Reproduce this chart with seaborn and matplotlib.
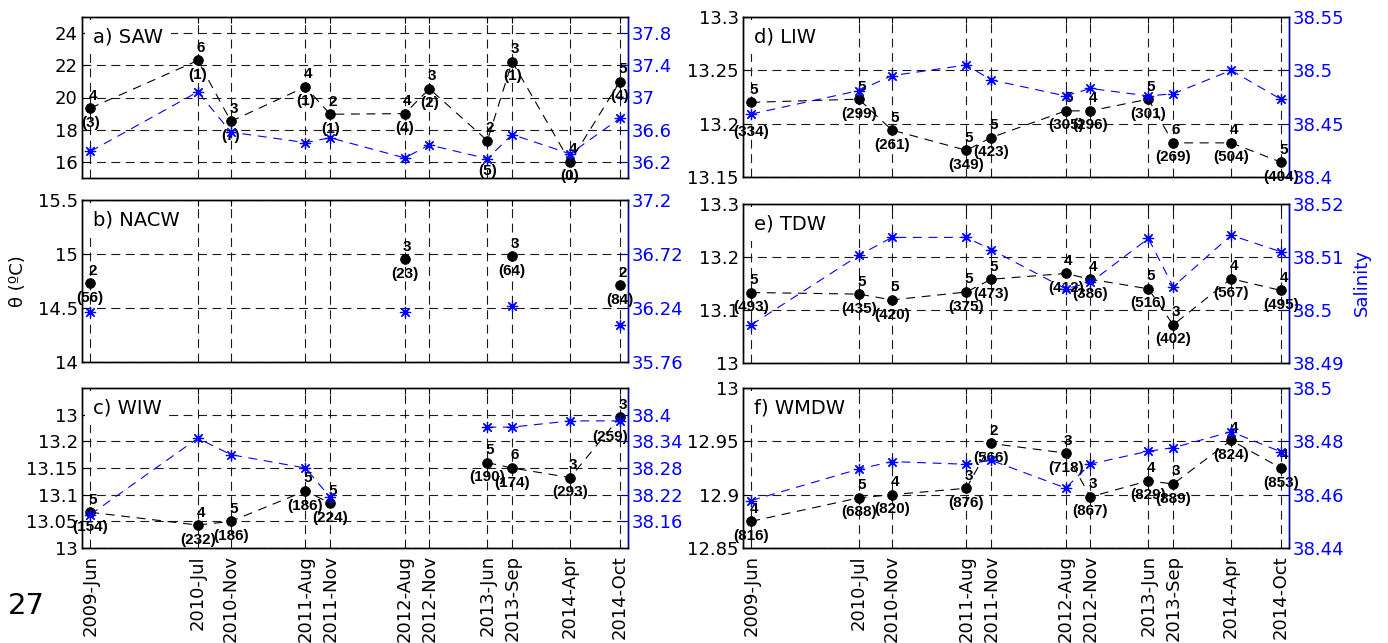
import numpy as np
import pandas as pd
import seaborn as sns
import matplotlib.pyplot as plt
from matplotlib.ticker import FixedLocator, FixedFormatter

nan = np.nan

# sampling dates (months after 2009-Jun) and their labels
months = [0, 13, 17, 26, 29, 38, 41, 48, 51, 58, 64]
date_labels = ['2009-Jun', '2010-Jul', '2010-Nov', '2011-Aug', '2011-Nov', '2012-Aug',
               '2012-Nov', '2013-Jun', '2013-Sep', '2014-Apr', '2014-Oct']

# a) SAW
saw_theta = [19.34, 22.30, 18.52, 20.66, 18.96, 19.00, 20.54, 17.32, 22.23, 16.00, 20.98]
saw_sal = [36.33, 37.07, 36.57, 36.44, 36.50, 36.25, 36.41, 36.24, 36.54, 36.30, 36.74]
saw_n = [4, 6, 3, 4, 2, 4, 3, 2, 3, 4, 5]
saw_depth = [3, 1, 7, 1, 1, 4, 2, 5, 1, 0, 4]

# b) NACW
nacw_theta = [14.73, nan, nan, nan, nan, 14.95, nan, nan, 14.98, nan, 14.71]
nacw_sal = [36.20, nan, nan, nan, nan, 36.20, nan, nan, 36.26, nan, 36.085]
nacw_n = [2, nan, nan, nan, nan, 3, nan, nan, 3, nan, 2]
nacw_depth = [56, nan, nan, nan, nan, 23, nan, nan, 64, nan, 84]

# c) WIW
wiw_theta = [13.067, 13.043, 13.050, 13.107, 13.084, nan, nan, 13.160, 13.150, 13.132, 13.245]
wiw_sal = [38.175, 38.347, 38.310, 38.280, 38.214, nan, nan, 38.372, 38.372, 38.386, 38.386]
wiw_n = [5, 4, 5, 5, 5, nan, nan, 5, 6, 3, 3]
wiw_depth = [154, 232, 186, 186, 224, nan, nan, 190, 174, 293, 259]

# d) LIW
liw_theta = [13.220, 13.223, 13.194, 13.175, 13.187, 13.212, 13.212, 13.223, 13.182, 13.182, 13.164]
liw_sal = [38.459, 38.481, 38.495, 38.505, 38.491, 38.476, 38.483, 38.476, 38.478, 38.500, 38.473]
liw_n = [5, 5, 5, 5, 5, 5, 4, 5, 6, 4, 5]
liw_depth = [334, 299, 261, 349, 423, 305, 296, 301, 269, 504, 404]

# e) TDW
tdw_theta = [13.133, 13.130, 13.119, 13.134, 13.158, 13.169, 13.158, 13.140, 13.072, 13.159, 13.137]
tdw_sal = [38.4972, 38.5103, 38.5137, 38.5137, 38.5114, 38.5040, 38.5052, 38.5135, 38.5044, 38.5141, 38.5110]
tdw_n = [5, 5, 5, 5, 5, 4, 4, 5, 3, 4, 4]
tdw_depth = [493, 435, 420, 375, 473, 412, 386, 516, 402, 567, 495]

# f) WMDW
wmdw_theta = [12.875, 12.897, 12.900, 12.906, 12.948, 12.939, 12.898, 12.913, 12.910, 12.951, 12.925]
wmdw_sal = [38.4578, 38.4696, 38.4724, 38.4714, 38.4729, 38.4625, 38.4715, 38.4763, 38.4776, 38.4836, 38.4761]
wmdw_n = [4, 5, 4, 3, 2, 3, 3, 4, 3, 4, 4]
wmdw_depth = [816, 688, 820, 876, 566, 718, 867, 829, 889, 824, 853]

# label nudges (points) for a few "(n)" labels that sit further away in the original
depth_nudge = {('a) SAW', 7): (0, -22), ('d) LIW', 0): (0, -21), ('c) WIW', 10): (-7, -14)}

sns.set_style('white')
plt.rcParams['font.family'] = ['DejaVu Sans']
plt.rcParams['axes.linewidth'] = 1.0
for key in ['text.color', 'axes.labelcolor', 'xtick.color', 'ytick.color', 'axes.edgecolor']:
    plt.rcParams[key] = 'black'

BLUE = '#0000ff'
SPINE_BLUE = '#0000a8'
TICK_FS = 13
ANN = dict(fontsize=11, fontweight='bold', family=['Liberation Sans', 'DejaVu Sans'],
           ha='center', va='center', zorder=5)


def series_df(y):
    y = np.asarray(y, dtype=float)
    seg = np.cumsum(np.isnan(y))
    return pd.DataFrame({'m': months, 'y': y, 'seg': seg}).dropna()


def draw_panel(rect, title, theta, sal, n, depth, ylim, yticks, ylabels,
               slim, sticks, slabels, bottom=False):
    ax = fig.add_axes(rect)
    ax2 = ax.twinx()

    t = series_df(theta)
    s = series_df(sal)

    sns.lineplot(data=t, x='m', y='y', units='seg', estimator=None, sort=False,
                 color='k', linewidth=0.8, linestyle=(0, (8, 6)), ax=ax, legend=False)
    sns.scatterplot(data=t, x='m', y='y', color='k', s=50, edgecolor='k',
                    linewidth=0.5, ax=ax, zorder=4, legend=False)

    sns.lineplot(data=s, x='m', y='y', units='seg', estimator=None, sort=False,
                 color=BLUE, linewidth=0.8, linestyle=(0, (8, 6)), ax=ax2, legend=False)
    ax2.scatter(s['m'], s['y'], marker=(8, 2, 0), s=55, color=BLUE, linewidths=0.9, zorder=4)

    for i, (m, th, k, d) in enumerate(zip(months, theta, n, depth)):
        if np.isnan(th):
            continue
        ax.annotate(f'{int(k)}', (m, th), xytext=(2, 9), textcoords='offset points', **ANN)
        off = depth_nudge.get((title, i), (0, -10.5))
        ax.annotate(f'({int(d)})', (m, th), xytext=off, textcoords='offset points', **ANN)

    ax.set_xlim(-1, 65)
    ax.set_ylim(*ylim)
    ax.yaxis.set_major_locator(FixedLocator(yticks))
    ax.yaxis.set_major_formatter(FixedFormatter(ylabels))
    ax.xaxis.set_major_locator(FixedLocator(months))
    if bottom:
        ax.set_xticklabels(date_labels, rotation=90, fontsize=TICK_FS)
    else:
        ax.set_xticklabels([])
    ax.set_xlabel('')
    ax.set_ylabel('')
    ax.tick_params(axis='y', direction='in', length=5, labelsize=TICK_FS, pad=3,
                   colors='k')
    ax.tick_params(axis='x', direction='in', length=4, pad=5, top=True, colors='k')
    ax.grid(True, color='0.1', linestyle=(0, (8, 5)), linewidth=0.8)

    ax2.set_ylim(*slim)
    ax2.yaxis.set_major_locator(FixedLocator(sticks))
    ax2.yaxis.set_major_formatter(FixedFormatter(slabels))
    ax2.set_ylabel('')
    ax2.tick_params(axis='y', direction='in', length=5, labelsize=TICK_FS, pad=3,
                    colors=SPINE_BLUE, labelcolor=BLUE)
    ax2.spines['right'].set_color(SPINE_BLUE)
    ax2.grid(False)

    ax2.text(0.02, 0.875, title, transform=ax.transAxes, fontsize=14, color='k',
             ha='left', va='center', zorder=6,
             bbox=dict(facecolor='white', edgecolor='none', boxstyle='square,pad=0.4'))
    return ax, ax2


fig = plt.figure(figsize=(13.88, 6.43), dpi=100)

W, H = 1388.0, 643.0


def rect(x0, x1, y0, y1):
    return [x0 / W, 1 - y1 / H, (x1 - x0) / W, (y1 - y0) / H]


draw_panel(rect(82, 628, 17, 178), 'a) SAW', saw_theta, saw_sal, saw_n, saw_depth,
           (15, 25), [16, 18, 20, 22, 24], ['16', '18', '20', '22', '24'],
           (36.0, 38.0), [36.2, 36.6, 37.0, 37.4, 37.8], ['36.2', '36.6', '37', '37.4', '37.8'])
draw_panel(rect(82, 628, 200, 362), 'b) NACW', nacw_theta, nacw_sal, nacw_n, nacw_depth,
           (14, 15.5), [14, 14.5, 15, 15.5], ['14', '14.5', '15', '15.5'],
           (35.76, 37.2), [35.76, 36.24, 36.72, 37.2], ['35.76', '36.24', '36.72', '37.2'])
draw_panel(rect(82, 628, 388, 548), 'c) WIW', wiw_theta, wiw_sal, wiw_n, wiw_depth,
           (13.0, 13.3), [13.0, 13.05, 13.1, 13.15, 13.2, 13.25],
           ['13', '13.05', '13.1', '13.15', '13.2', '13'],
           (38.10, 38.46), [38.16, 38.22, 38.28, 38.34, 38.40],
           ['38.16', '38.22', '38.28', '38.34', '38.4'], bottom=True)
draw_panel(rect(743, 1289, 17, 177), 'd) LIW', liw_theta, liw_sal, liw_n, liw_depth,
           (13.15, 13.3), [13.15, 13.2, 13.25, 13.3], ['13.15', '13.2', '13.25', '13.3'],
           (38.4, 38.55), [38.4, 38.45, 38.5, 38.55], ['38.4', '38.45', '38.5', '38.55'])
draw_panel(rect(743, 1289, 204, 363), 'e) TDW', tdw_theta, tdw_sal, tdw_n, tdw_depth,
           (13.0, 13.3), [13.0, 13.1, 13.2, 13.3], ['13', '13.1', '13.2', '13.3'],
           (38.49, 38.52), [38.49, 38.5, 38.51, 38.52], ['38.49', '38.5', '38.51', '38.52'])
draw_panel(rect(743, 1289, 388, 548), 'f) WMDW', wmdw_theta, wmdw_sal, wmdw_n, wmdw_depth,
           (12.85, 13.0), [12.85, 12.9, 12.95, 13.0], ['12.85', '12.9', '12.95', '13'],
           (38.44, 38.5), [38.44, 38.46, 38.48, 38.5], ['38.44', '38.46', '38.48', '38.5'],
           bottom=True)

fig.text(18 / W, 1 - 281 / H, 'θ (ºC)', rotation=90, ha='center', va='center',
         fontsize=13)
fig.text(1362 / W, 1 - 283 / H, 'Salinity', rotation=90, ha='center', va='center',
         fontsize=13, color=BLUE)
fig.text(8 / W, 1 - 606 / H, '27', ha='left', va='center', fontsize=21,
         family='DejaVu Sans')

fig.savefig('out.png', dpi=100)
